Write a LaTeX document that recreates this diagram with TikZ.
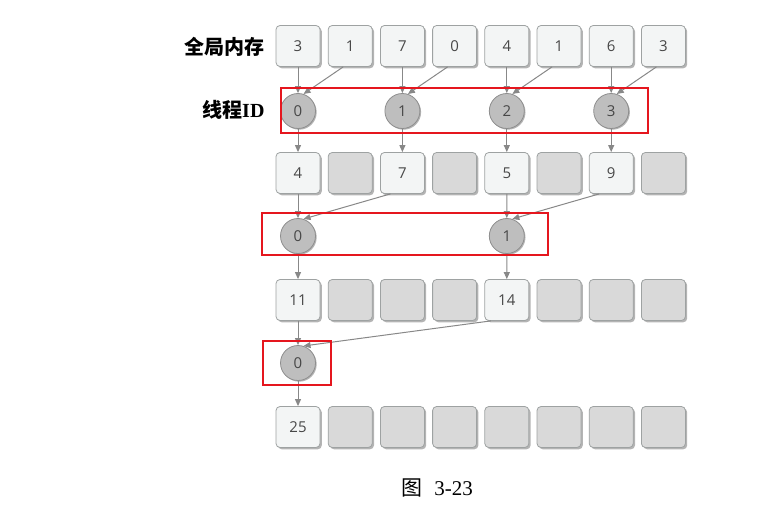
\documentclass[tikz,border=0pt]{standalone}
\usepackage{fontspec}
\setmainfont{Liberation Serif}
\setsansfont{Open Sans}
\newfontfamily\cjk{Noto Sans CJK SC}
\usetikzlibrary{arrows.meta, positioning, shadows}

\definecolor{boxline}{HTML}{9EA2A2}
\definecolor{boxfill}{HTML}{F3F5F5}
\definecolor{blankfill}{HTML}{D9D9D9}
\definecolor{shadowgray}{HTML}{B4B4B4}
\definecolor{circfill}{HTML}{BEBEBE}
\definecolor{circline}{HTML}{8E8E8E}
\definecolor{numtext}{HTML}{474747}
\definecolor{linkgray}{HTML}{888888}
\definecolor{framered}{HTML}{E5161E}

\tikzset{
  cell/.style={draw=boxline, fill=boxfill, rounded corners=4pt,
    minimum width=44pt, minimum height=41pt, line width=0.8pt,
    font=\sffamily\fontsize{15}{17}\selectfont, text=numtext,
    drop shadow={shadow xshift=1.8pt, shadow yshift=-1.8pt, fill=shadowgray, opacity=1}},
  blank/.style={cell, fill=blankfill},
  tid/.style={circle, draw=circline, fill=circfill, minimum size=35pt,
    inner sep=0pt, line width=0.8pt,
    font=\sffamily\fontsize{15}{17}\selectfont, text=numtext,
    drop shadow={shadow xshift=1.2pt, shadow yshift=-1.2pt, fill=shadowgray, opacity=1}},
  link/.style={draw=linkgray, line width=1pt, -{Triangle[length=7pt,width=6pt]}},
  redframe/.style={draw=framered, line width=2.3pt},
  rowlabel/.style={anchor=east, font=\fontsize{20}{22}\selectfont\bfseries},
}

\begin{document}
\begin{tikzpicture}[x=1pt, y=-1pt]
\useasboundingbox (0,0) rectangle (767,505);
% labels on the left
\node[rowlabel] (memlabel) at (268,47) {\cjk 全局内存};
\node[rowlabel] (tidlabel) at (268,110) {{\cjk 线程}ID};

% global memory
\foreach \v [count=\i from 0] in {3,1,7,0,4,1,6,3}
  \node[cell] (g\i) at (298+52.2*\i, 46) {\v};

% first step
\foreach \j in {0,...,3}
  \node[tid] (t\j) at (298+104.4*\j, 111) {\j};
\foreach \i/\v/\s in {0/4/cell,1//blank,2/7/cell,3//blank,4/5/cell,5//blank,6/9/cell,7//blank}
  \node[\s] (a\i) at (298+52.2*\i, 173) {\v};
\foreach \j in {0,...,3}{
  \pgfmathtruncatemacro\k{2*\j}
  \pgfmathtruncatemacro\m{2*\j+1}
  \draw[link] (g\k.south) -- (t\j.north);
  \draw[link] ([xshift=-7pt]g\m.south) -- (t\j.72);
  \draw[link] (t\j.south) -- (a\k.north);
}

% second step
\foreach \j in {0,1}
  \node[tid] (s\j) at (298+208.8*\j, 236) {\j};
\foreach \i/\v/\s in {0/11/cell,1//blank,2//blank,3//blank,4/14/cell,5//blank,6//blank,7//blank}
  \node[\s] (b\i) at (298+52.2*\i, 300) {\v};
\foreach \j in {0,1}{
  \pgfmathtruncatemacro\k{4*\j}
  \pgfmathtruncatemacro\m{4*\j+2}
  \draw[link] (a\k.south) -- (s\j.north);
  \draw[link] ([xshift=-12pt]a\m.south) -- (s\j.72);
  \draw[link] (s\j.south) -- (b\k.north);
}

% third step
\node[tid] (u0) at (298, 363) {0};
\foreach \i/\v/\s in {0/25/cell,1//blank,2//blank,3//blank,4//blank,5//blank,6//blank,7//blank}
  \node[\s] (c\i) at (298+52.2*\i, 427) {\v};
\draw[link] (b0.south) -- (u0.north);
\draw[link] ([xshift=-16pt]b4.south) -- (u0.72);
\draw[link] (u0.south) -- (c0.north);

% thread frames
\draw[redframe] (281,88) rectangle (648,133);
\draw[redframe] (262,213) rectangle (548,255);
\draw[redframe] (263,341) rectangle (331,385);

% caption
\node[font=\fontsize{21}{24}\selectfont] (caption) at (437,488) {{\cjk 图}\hspace{12pt}3-23};
\end{tikzpicture}
\end{document}
